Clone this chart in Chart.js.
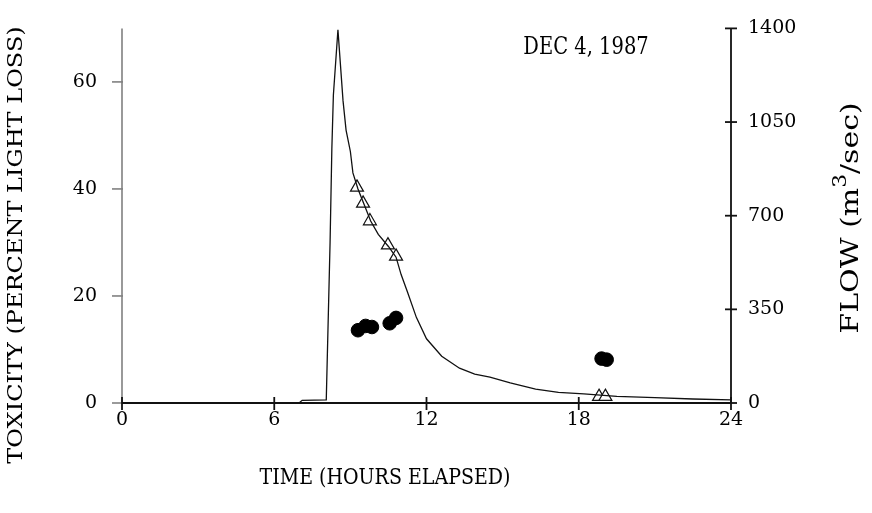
<!DOCTYPE html>
<html>
<head>
<meta charset="utf-8">
<script src="https://cdn.jsdelivr.net/npm/chart.js@4.4.1/dist/chart.umd.min.js"></script>
<style>
    html, body { margin: 0; padding: 0; background: #fff; }
    #wrap { width: 872px; height: 513px; }
</style>
</head>
<body>
<div id="wrap"><canvas id="flowChart" width="872" height="513"></canvas></div>
<script>
// flow hydrograph (hours elapsed, m3/sec)
const flowHours  = [0, 7.0, 7.1, 8.05, 8.2, 8.27, 8.33, 8.51, 8.71, 8.83, 9.0, 9.1, 9.3, 9.55, 9.8, 10.1, 10.5, 10.8, 11.0, 11.25, 11.6, 12.0, 12.6, 13.3, 13.9, 14.5, 15.3, 16.3, 17.2, 18.2, 19.5, 21.0, 22.5, 24.0];
const flowValues = [0, 2, 10, 12, 600, 950, 1150, 1395, 1130, 1020, 940, 860, 800, 740, 680, 630, 585, 545, 480, 415, 320, 240, 175, 130, 108, 97, 75, 52, 40, 34, 25, 20, 15, 12];

// toxicity samples (percent light loss)
const triHours = [9.26, 9.5, 9.77, 10.48, 10.8, 18.8, 19.05];
const triTox   = [40.3, 37.3, 34.0, 29.5, 27.4, 1.2, 1.2];
const dotHours = [9.3, 9.6, 9.85, 10.55, 10.8, 18.9, 19.1];
const dotTox   = [13.6, 14.4, 14.2, 14.9, 15.9, 8.3, 8.1];

const xTicks = [0, 6, 12, 18, 24];
const toxTicks = [0, 20, 40, 60];
const flowTicks = [0, 350, 700, 1050, 1400];

const serif = "'DejaVu Serif', serif";

function pairs(xs, ys) {
    return xs.map((x, i) => ({ x: x, y: ys[i] }));
}

function line(ctx, x1, y1, x2, y2) {
    ctx.beginPath();
    ctx.moveTo(x1, y1);
    ctx.lineTo(x2, y2);
    ctx.stroke();
}

// the scan is a bit stretched vertically, so text gets drawn the same way
function stretchedText(ctx, text, cx, cy, size, rotate) {
    ctx.save();
    ctx.translate(cx, cy);
    ctx.scale(1, 1.2);
    if (rotate) ctx.rotate(-Math.PI / 2);
    ctx.font = size + 'px ' + serif;
    ctx.textAlign = 'center';
    ctx.textBaseline = 'middle';
    ctx.fillText(text, 0, 0);
    ctx.restore();
}

const paperAxes = {
    id: 'paperAxes',
    afterDraw(chart) {
        const { ctx, chartArea: a, scales } = chart;
        ctx.save();
        ctx.lineCap = 'butt';

        // left axis, printed lighter
        ctx.strokeStyle = '#808080';
        ctx.lineWidth = 1.6;
        line(ctx, a.left, a.top, a.left, a.bottom);
        toxTicks.forEach(v => {
            const py = scales.y.getPixelForValue(v);
            line(ctx, a.left - 10, py, a.left + 1, py);
        });

        ctx.strokeStyle = '#111';
        ctx.lineWidth = 1.8;
        line(ctx, a.left, a.bottom, a.right, a.bottom);
        xTicks.forEach(v => {
            const px = scales.x.getPixelForValue(v);
            line(ctx, px, a.bottom - 6, px, a.bottom + 7);
        });

        line(ctx, a.right, a.top, a.right, a.bottom);
        flowTicks.forEach(v => {
            const py = scales.y1.getPixelForValue(v);
            line(ctx, a.right - 6, py, a.right + 6, py);
        });

        // titles and note
        ctx.fillStyle = '#000';
        stretchedText(ctx, 'TIME (HOURS ELAPSED)', 385, 478, 19, false);
        stretchedText(ctx, 'TOXICITY (PERCENT LIGHT LOSS)', 17, 245, 20, true);
        stretchedText(ctx, 'DEC 4, 1987', 586, 48, 19.5, false);

        // right title with raised 3
        ctx.save();
        ctx.translate(851, 218);
        ctx.scale(1, 1.2);
        ctx.rotate(-Math.PI / 2);
        const big = '25px ' + serif, small = '18px ' + serif;
        const parts = [['FLOW (m', big, 0], ['3', small, -10], ['/sec)', big, 0]];
        let total = 0;
        parts.forEach(p => { ctx.font = p[1]; total += ctx.measureText(p[0]).width; });
        let cx = -total / 2;
        ctx.textBaseline = 'middle';
        ctx.textAlign = 'left';
        parts.forEach(p => {
            ctx.font = p[1];
            ctx.fillText(p[0], cx, p[2]);
            cx += ctx.measureText(p[0]).width;
        });
        ctx.restore();

        ctx.restore();
    }
};

const tickFont = { family: serif, size: 19 };

const ctx = document.getElementById('flowChart').getContext('2d');
new Chart(ctx, {
    type: 'scatter',
    data: {
        datasets: [
            {
                label: 'Flow',
                data: pairs(flowHours, flowValues),
                yAxisID: 'y1',
                showLine: true,
                borderColor: '#111',
                borderWidth: 1.3,
                pointRadius: 0,
                tension: 0
            },
            {
                label: 'Toxicity (triangles)',
                data: pairs(triHours, triTox),
                yAxisID: 'y',
                pointStyle: 'triangle',
                pointRadius: 7.5,
                backgroundColor: '#fff',
                borderColor: '#111',
                borderWidth: 1.2
            },
            {
                label: 'Toxicity (dots)',
                data: pairs(dotHours, dotTox),
                yAxisID: 'y',
                pointStyle: 'circle',
                pointRadius: 6.8,
                backgroundColor: '#000',
                borderColor: '#000',
                borderWidth: 1
            }
        ]
    },
    options: {
        responsive: false,
        animation: false,
        layout: { padding: { top: 28, left: 0, right: 0, bottom: 0 } },
        plugins: {
            legend: { display: false },
            tooltip: { enabled: false }
        },
        scales: {
            x: {
                type: 'linear',
                position: 'bottom',
                min: 0,
                max: 24,
                afterBuildTicks: s => { s.ticks = xTicks.map(v => ({ value: v })); },
                afterFit: s => { s.height = 110; },
                grid: { display: false },
                border: { display: false },
                ticks: { color: '#000', font: tickFont, padding: -2, callback: v => String(v) }
            },
            y: {
                type: 'linear',
                position: 'left',
                min: 0,
                max: 70,
                afterBuildTicks: s => { s.ticks = toxTicks.map(v => ({ value: v })); },
                afterFit: s => { s.width = 122; },
                grid: { display: false },
                border: { display: false },
                ticks: { color: '#000', font: tickFont, padding: 17, callback: v => String(v) }
            },
            y1: {
                type: 'linear',
                position: 'right',
                min: 0,
                max: 1400,
                afterBuildTicks: s => { s.ticks = flowTicks.map(v => ({ value: v })); },
                afterFit: s => { s.width = 141; },
                grid: { display: false },
                border: { display: false },
                ticks: { color: '#000', font: tickFont, padding: 9, callback: v => String(v) }
            }
        }
    },
    plugins: [paperAxes]
});
</script>
</body>
</html>
